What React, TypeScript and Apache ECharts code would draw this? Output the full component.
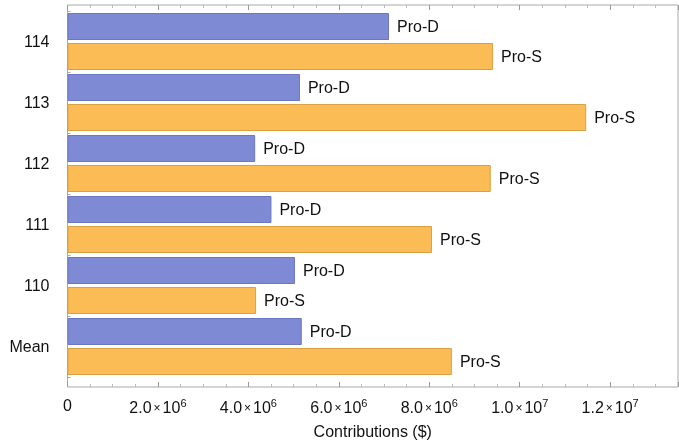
import React, { useEffect, useRef } from "react";
import * as echarts from "echarts";

const categories = ["Mean", "110", "111", "112", "113", "114"];
const proD = [5.18e6, 5.03e6, 4.51e6, 4.15e6, 5.14e6, 7.11e6];
const proS = [8.5e6, 4.17e6, 8.06e6, 9.36e6, 11.47e6, 9.41e6];
const seriesNames = ["Pro-D", "Pro-S"];
const xMax = 13.5e6;
const xInterval = 2e6;
const xTitle = "Contributions ($)";

const FONT = "'Liberation Sans', Arial, Helvetica, sans-serif";

function fmtTick(v: number): string {
  if (v === 0) return "{b|0}";
  const e = Math.floor(Math.log10(v) + 1e-9);
  const m = (v / Math.pow(10, e)).toFixed(1);
  return `{b|${m}}{x|×}{b|10}{s|${e}}`;
}

export default function App() {
  const ref = useRef<HTMLDivElement>(null);
  useEffect(() => {
    if (!ref.current) return;
    const chart = echarts.init(ref.current, null, { renderer: "svg" });
    const gridL = 67.5;
    const gridR = 1;
    const axisCommon = {
      min: 0,
      max: xMax,
      interval: xInterval,
    };
    chart.setOption({
      animation: false,
      textStyle: { fontFamily: FONT },
      grid: [
        { left: gridL, right: gridR, top: 5, height: 383, show: true, borderColor: "#a8a8a8", borderWidth: 1, backgroundColor: "transparent" },
        { left: gridL, right: gridR, top: 11, height: 366 },
      ],
      xAxis: [
        {
          type: "value",
          gridIndex: 0,
          ...axisCommon,
          position: "bottom",
          axisLine: { show: false },
          splitLine: { show: false },
          axisTick: { show: true, inside: true, length: 5, lineStyle: { color: "#999" } },
          minorTick: { show: true, splitNumber: 4, length: 3, lineStyle: { color: "#bbb" } },
          axisLabel: {
            showMaxLabel: false,
            margin: 10,
            formatter: fmtTick,
            rich: {
              b: { fontSize: 16, color: "#111", fontFamily: FONT },
              x: { fontSize: 12, color: "#111", fontFamily: FONT, padding: [0, 2, 0, 2] },
              s: { fontSize: 11, color: "#111", fontFamily: FONT, verticalAlign: "bottom", padding: [0, 0, 10, 0] },
            },
          },
          name: xTitle,
          nameLocation: "middle",
          nameGap: 36,
          nameTextStyle: { fontSize: 16, color: "#111", fontFamily: FONT },
        },
        {
          type: "value",
          gridIndex: 0,
          ...axisCommon,
          position: "top",
          axisLine: { show: false },
          splitLine: { show: false },
          axisLabel: { show: false },
          axisTick: { show: true, inside: true, length: 5, lineStyle: { color: "#999" } },
          minorTick: { show: true, splitNumber: 4, length: 3, lineStyle: { color: "#bbb" } },
        },
        {
          type: "value",
          gridIndex: 1,
          ...axisCommon,
          show: false,
        },
      ],
      yAxis: [
        { type: "value", gridIndex: 0, show: false },
        {
          type: "category",
          gridIndex: 1,
          data: categories,
          axisLine: { show: false },
          axisTick: { show: true, inside: true, length: 3, lineStyle: { color: "#aaa" } },
          axisLabel: { fontSize: 16, color: "#111", margin: 18, fontFamily: FONT },
        },
      ],
      series: [
        {
          name: seriesNames[0],
          type: "bar",
          xAxisIndex: 2,
          yAxisIndex: 1,
          data: proD,
          barWidth: 27,
          barGap: "11%",
          itemStyle: { color: "#7E8AD4", borderColor: "#6B77C2", borderWidth: 1 },
          label: { show: true, position: "right", distance: 8, formatter: seriesNames[0], fontSize: 16, color: "#111", fontFamily: FONT },
        },
        {
          name: seriesNames[1],
          type: "bar",
          xAxisIndex: 2,
          yAxisIndex: 1,
          data: proS,
          barWidth: 27,
          barGap: "11%",
          itemStyle: { color: "#FCBC55", borderColor: "#D9A143", borderWidth: 1 },
          label: { show: true, position: "right", distance: 8, formatter: seriesNames[1], fontSize: 16, color: "#111", fontFamily: FONT },
        },
      ],
    });
    return () => chart.dispose();
  }, []);
  return <div ref={ref} style={{ position: "fixed", left: 0, top: 0, width: 679, height: 444 }} />;
}
